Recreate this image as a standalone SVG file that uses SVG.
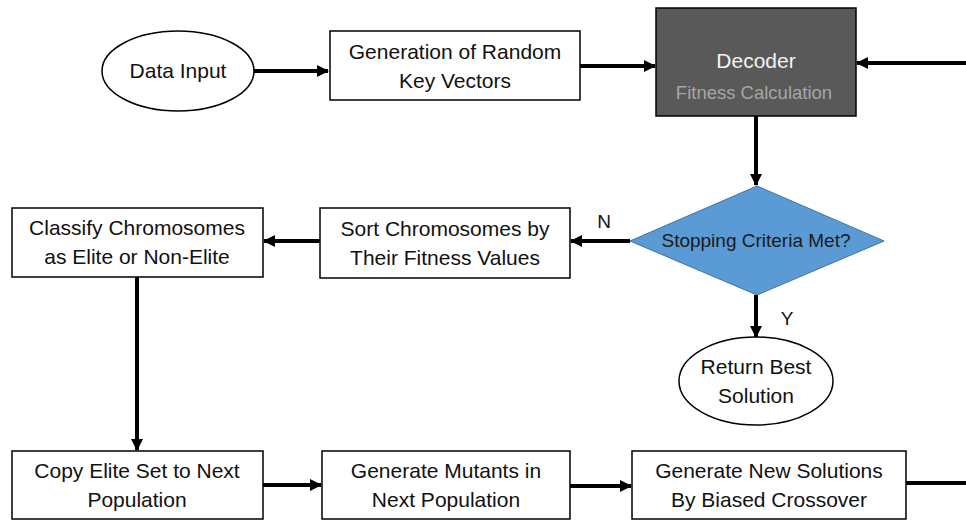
<svg xmlns="http://www.w3.org/2000/svg" width="966" height="521" viewBox="0 0 966 521">
<style>
.box{fill:#fff;stroke:#000;stroke-width:1.5}
.t{font-family:"Liberation Sans",Arial,sans-serif;font-size:21px;fill:#111;text-anchor:middle}
.c{fill:none;stroke:#000;stroke-width:4}
</style>
<defs>
<marker id="ah" markerUnits="userSpaceOnUse" markerWidth="12" markerHeight="12" refX="11" refY="6" orient="auto">
<path d="M0,0 L12,6 L0,12 Z" fill="#000"/>
</marker>
</defs>
<rect width="966" height="521" fill="#fff"/>
<g id="connectors">
<line class="c" x1="254" y1="71" x2="328" y2="71" marker-end="url(#ah)"/>
<line class="c" x1="580" y1="66" x2="655" y2="66" marker-end="url(#ah)"/>
<line class="c" x1="970" y1="63" x2="857" y2="63" marker-end="url(#ah)"/>
<line class="c" x1="756" y1="116" x2="756" y2="185" marker-end="url(#ah)"/>
<line class="c" x1="630" y1="241" x2="571" y2="241" marker-end="url(#ah)"/>
<line class="c" x1="320" y1="241" x2="264" y2="241" marker-end="url(#ah)"/>
<line class="c" x1="137" y1="277" x2="137" y2="450" marker-end="url(#ah)"/>
<line class="c" x1="756" y1="295" x2="756" y2="337" marker-end="url(#ah)"/>
<line class="c" x1="263" y1="485" x2="321" y2="485" marker-end="url(#ah)"/>
<line class="c" x1="570" y1="486" x2="631" y2="486" marker-end="url(#ah)"/>
<line class="c" x1="906" y1="483" x2="970" y2="483"/>
<text class="t" x="604" y="228" style="font-size:19px">N</text>
<text class="t" x="787" y="325" style="font-size:19px">Y</text>
</g>
<g id="data-input">
<ellipse class="box" cx="178" cy="71" rx="76" ry="40"/>
<text class="t" x="178" y="78">Data Input</text>
</g>
<g id="random-keys">
<rect class="box" x="330" y="31" width="250" height="69"/>
<text class="t" x="455" y="59">Generation of Random</text>
<text class="t" x="455" y="88">Key Vectors</text>
</g>
<g id="decoder">
<rect x="656" y="8" width="200" height="108" fill="#595959" stroke="#000" stroke-width="1.5"/>
<text class="t" x="756" y="68" style="fill:#f2f2f2">Decoder</text>
<text class="t" x="754" y="99" style="fill:#a6a6a6;font-size:18.5px">Fitness Calculation</text>
</g>
<g id="stopping">
<polygon points="757,186 884,241 757,295 630,241" fill="#5b9bd5" stroke="#41719c" stroke-width="1"/>
<text class="t" x="756" y="247" style="font-size:19px;fill:#1a1a1a">Stopping Criteria Met?</text>
</g>
<g id="sort">
<rect class="box" x="320" y="208" width="250" height="70"/>
<text class="t" x="445" y="236">Sort Chromosomes by</text>
<text class="t" x="445" y="265">Their Fitness Values</text>
</g>
<g id="classify">
<rect class="box" x="12" y="208" width="251" height="69"/>
<text class="t" x="137" y="235">Classify Chromosomes</text>
<text class="t" x="137" y="264">as Elite or Non-Elite</text>
</g>
<g id="return-best">
<ellipse class="box" cx="756" cy="381" rx="77" ry="44"/>
<text class="t" x="756" y="374">Return Best</text>
<text class="t" x="756" y="403">Solution</text>
</g>
<g id="copy-elite">
<rect class="box" x="12" y="451" width="251" height="68"/>
<text class="t" x="137" y="478">Copy Elite Set to Next</text>
<text class="t" x="137" y="507">Population</text>
</g>
<g id="mutants">
<rect class="box" x="322" y="451" width="248" height="68"/>
<text class="t" x="446" y="478">Generate Mutants in</text>
<text class="t" x="446" y="507">Next Population</text>
</g>
<g id="crossover">
<rect class="box" x="632" y="451" width="274" height="68"/>
<text class="t" x="769" y="478">Generate New Solutions</text>
<text class="t" x="769" y="507">By Biased Crossover</text>
</g>
</svg>
